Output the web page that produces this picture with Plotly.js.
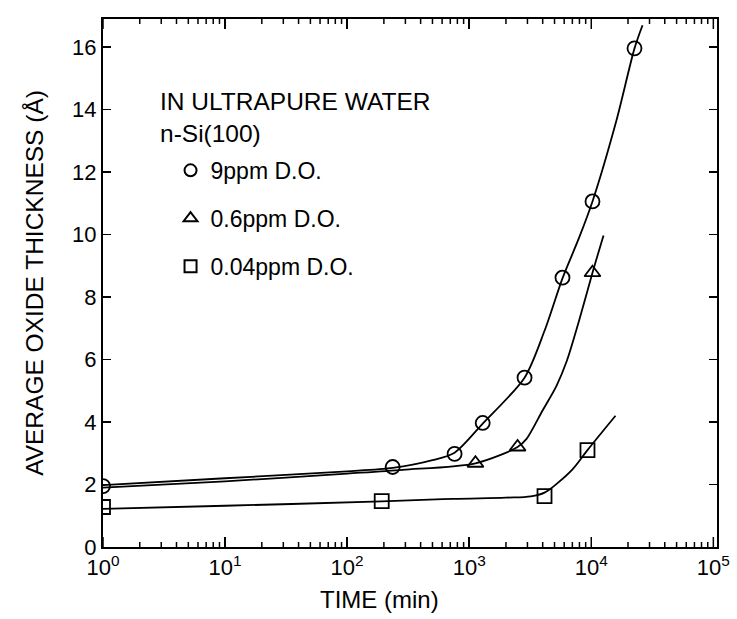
<!DOCTYPE html>
<html>
<head>
<meta charset="utf-8">
<script src="https://cdn.plot.ly/plotly-3.0.1.min.js"></script>
<style>html,body{margin:0;padding:0;background:#fff;}#chart{width:737px;height:619px;}</style>
</head>
<body>
<div id="chart"></div>
<script>
// ---- data ----
const seriesNames = ["9ppm D.O.", "0.6ppm D.O.", "0.04ppm D.O."];

// measured points (time in min, thickness in Å)
const circX = [1, 236, 759, 1290, 2840, 5810, 10230, 22600];
const circY = [1.95, 2.56, 2.98, 3.97, 5.42, 8.62, 11.06, 15.96];
const triX = [1125, 2490, 10230];
const triY = [2.68, 3.2, 8.78];
const sqX = [1, 192, 4140, 9310];
const sqY = [1.28, 1.47, 1.63, 3.1];

// hand-drawn guide curves
const fit9X = [1, 10, 100, 236, 500, 759, 1290, 2840, 4140, 5810, 7950, 10230, 16070, 22600, 26300];
const fit9Y = [1.98, 2.2, 2.42, 2.53, 2.78, 3.02, 3.95, 5.42, 6.92, 8.6, 9.9, 11.06, 13.65, 15.96, 16.7];
const fit06X = [1, 10, 100, 285, 1125, 2490, 2950, 3980, 5190, 6310, 7940, 10230, 12600];
const fit06Y = [1.9, 2.1, 2.35, 2.47, 2.68, 3.2, 3.46, 4.36, 5.16, 5.96, 7.24, 8.78, 9.97];
const fit004X = [1, 10, 192, 730, 2000, 3200, 4140, 5200, 7080, 9310, 15800];
const fit004Y = [1.22, 1.32, 1.46, 1.54, 1.58, 1.62, 1.74, 2.02, 2.5, 3.1, 4.2];

// axis ticks
const xTickVals = [1, 10, 100, 1000, 10000, 100000];
const xTickText = ["10<sup>0</sup>", "10<sup>1</sup>", "10<sup>2</sup>", "10<sup>3</sup>", "10<sup>4</sup>", "10<sup>5</sup>"];
const xMinorTickVals = [2, 3, 4, 5, 6, 7, 8, 9,
  20, 30, 40, 50, 60, 70, 80, 90,
  200, 300, 400, 500, 600, 700, 800, 900,
  2000, 3000, 4000, 5000, 6000, 7000, 8000, 9000,
  20000, 30000, 40000, 50000, 60000, 70000, 80000, 90000];
const yTickVals = [0, 2, 4, 6, 8, 10, 12, 14, 16];

const FONT = "Liberation Sans, Arial, sans-serif";
const X_RANGE = [0, 5.03];
const Y_RANGE = [0, 16.9];
const PLOT_H = 619 - 19 - 72;                       // plot-area height in px
const PX = (Y_RANGE[1] - Y_RANGE[0]) / PLOT_H;      // y units per pixel

// inward tick marks on the bottom and top edges, placed by the x axis scale
function tickMarks(vals, lenPx) {
  const xs = [], ys = [];
  const len = lenPx * PX;
  vals.forEach(v => {
    xs.push(v, v, null, v, v, null);
    ys.push(Y_RANGE[0], Y_RANGE[0] + len, null, Y_RANGE[1], Y_RANGE[1] - len, null);
  });
  return {x: xs, y: ys, mode: "lines", line: {color: "#000", width: 1.5},
          showlegend: false, hoverinfo: "skip", connectgaps: false};
}

const markerLine = {width: 1.8, color: "#000"};
const traces = [
  tickMarks(xTickVals, 10),
  tickMarks(xMinorTickVals, 5),
  {x: fit9X, y: fit9Y, mode: "lines", line: {color: "#000", width: 1.8, shape: "spline", smoothing: 0.8}, showlegend: false, hoverinfo: "skip"},
  {x: fit06X, y: fit06Y, mode: "lines", line: {color: "#000", width: 1.8, shape: "spline", smoothing: 0.8}, showlegend: false, hoverinfo: "skip"},
  {x: fit004X, y: fit004Y, mode: "lines", line: {color: "#000", width: 1.8, shape: "spline", smoothing: 1}, showlegend: false, hoverinfo: "skip"},
  {x: circX, y: circY, mode: "markers", name: seriesNames[0], legendgroup: "a",
   marker: {symbol: "circle-open", size: 14, color: "#000", line: markerLine}},
  {x: triX, y: triY, mode: "markers", name: seriesNames[1], legendgroup: "b",
   marker: {symbol: "triangle-up-open", size: 14, color: "#000", line: markerLine}},
  {x: sqX, y: sqY, mode: "markers", name: seriesNames[2], legendgroup: "c",
   marker: {symbol: "square-open", size: 14, color: "#000", line: markerLine}}
];

const layout = {
  width: 737, height: 619,
  margin: {l: 103, r: 20, t: 19, b: 72},
  paper_bgcolor: "#fff", plot_bgcolor: "#fff",
  font: {family: FONT, color: "#000", size: 21},
  showlegend: true,
  legend: {x: 0.11, y: 0.754, xanchor: "left", yanchor: "top", bgcolor: "rgba(0,0,0,0)",
           font: {family: FONT, size: 23, color: "#000"}, tracegroupgap: 15, itemsizing: "constant"},
  xaxis: {
    type: "log", range: X_RANGE,
    tickmode: "array", tickvals: xTickVals, ticktext: xTickText,
    ticks: "inside", ticklen: 10, tickwidth: 1.5, tickcolor: "#000",
    showline: true, linecolor: "#000", linewidth: 2, mirror: "ticks",
    showgrid: false, zeroline: false,
    tickfont: {family: FONT, size: 22}
  },
  yaxis: {
    range: Y_RANGE, tickvals: yTickVals,
    ticks: "inside", ticklen: 8, tickwidth: 1.5, tickcolor: "#000",
    showline: true, linecolor: "#000", linewidth: 2, mirror: "ticks",
    showgrid: false, zeroline: false,
    tickfont: {family: FONT, size: 22},
    title: {text: "AVERAGE OXIDE THICKNESS (Å)", font: {family: FONT, size: 24.5}, standoff: 22}
  },
  annotations: [
    {xref: "paper", yref: "paper", x: 0.09, y: 0.814, xanchor: "left", yanchor: "middle", align: "left",
     showarrow: false, text: "IN ULTRAPURE WATER<br>n-Si(100)", font: {family: FONT, size: 24.5}},
    {xref: "paper", yref: "paper", x: 0.451, y: -0.1, xanchor: "center", yanchor: "middle",
     showarrow: false, text: "TIME (min)", font: {family: FONT, size: 24}}
  ]
};

Plotly.newPlot("chart", traces, layout, {staticPlot: true});
</script>
</body>
</html>
